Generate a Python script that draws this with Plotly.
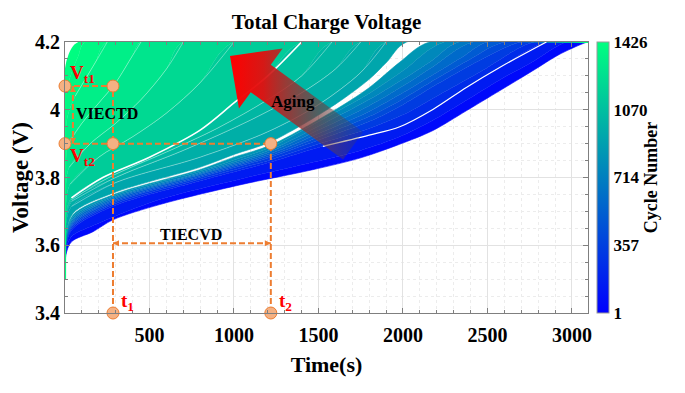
import plotly.graph_objects as go

# ---------------- data ----------------
cycle_min, cycle_max = 1, 1426
cbar_ticks = [1, 357, 714, 1070, 1426]
x_tick_vals = [500, 1000, 1500, 2000, 2500, 3000]
y_tick_vals = [3.4, 3.6, 3.8, 4.0, 4.2]
y_tick_text = ["3.4", "3.6", "3.8", "4", "4.2"]
cv_voltage = 4.2
record_end_t = 3100          # constant-voltage hold continues to end of record

# representative charge curves (time s, voltage V), least aged -> most aged
t_c0001 = [0, 5, 38, 166, 284, 560, 1034, 1466, 1750, 1980, 2175, 2375, 2572, 2768, 2928, 3092]
v_c0001 = [3.50, 3.57, 3.61, 3.64, 3.675, 3.72, 3.778, 3.823, 3.858, 3.898, 3.938, 3.997, 4.056, 4.115, 4.164, 4.20]
t_c0100 = [0, 5, 38, 200, 560, 1034, 1466, 1750, 1980, 2175, 2375, 2572, 2768, 2970]
v_c0100 = [3.50, 3.58, 3.625, 3.665, 3.735, 3.795, 3.845, 3.880, 3.920, 3.968, 4.028, 4.088, 4.142, 4.20]
t_c0200 = [0, 5, 40, 284, 797, 1215, 1526, 1800, 1981, 2177, 2375, 2572, 2849]
v_c0200 = [3.50, 3.59, 3.645, 3.715, 3.790, 3.845, 3.892, 3.925, 3.950, 4.001, 4.066, 4.125, 4.20]
t_c0290 = [0, 5, 40, 284, 797, 1215, 1526, 1800, 2000, 2200, 2450, 2775]
v_c0290 = [3.50, 3.595, 3.65, 3.72, 3.795, 3.852, 3.903, 3.945, 3.985, 4.040, 4.110, 4.20]
t_c0380 = [0, 5, 40, 284, 797, 1215, 1526, 1800, 2000, 2200, 2450, 2700]
v_c0380 = [3.50, 3.60, 3.655, 3.725, 3.800, 3.860, 3.915, 3.965, 4.015, 4.075, 4.145, 4.20]
t_c0465 = [0, 5, 41, 284, 797, 1215, 1526, 1800, 2000, 2200, 2400, 2600]
v_c0465 = [3.50, 3.602, 3.66, 3.729, 3.804, 3.865, 3.925, 3.980, 4.032, 4.092, 4.150, 4.20]
t_c0550 = [0, 5, 42, 284, 797, 1215, 1526, 1800, 2000, 2200, 2350, 2500]
v_c0550 = [3.50, 3.605, 3.665, 3.733, 3.808, 3.870, 3.935, 3.995, 4.050, 4.110, 4.155, 4.20]
t_c0635 = [0, 5, 44, 284, 797, 1215, 1526, 1800, 2000, 2180, 2415]
v_c0635 = [3.50, 3.607, 3.671, 3.737, 3.811, 3.876, 3.946, 4.012, 4.070, 4.128, 4.20]
t_c0720 = [0, 5, 45, 284, 797, 1215, 1526, 1800, 2000, 2170, 2330]
v_c0720 = [3.50, 3.61, 3.677, 3.741, 3.815, 3.882, 3.958, 4.030, 4.090, 4.145, 4.20]
t_c0800 = [0, 5, 46, 284, 797, 1000, 1215, 1526, 1800, 2000, 2245]
v_c0800 = [3.50, 3.612, 3.683, 3.745, 3.819, 3.852, 3.889, 3.972, 4.048, 4.115, 4.20]
t_c0880 = [0, 5, 47, 284, 797, 1000, 1215, 1566, 1800, 1980, 2157]
v_c0880 = [3.50, 3.615, 3.689, 3.749, 3.823, 3.860, 3.895, 3.990, 4.065, 4.140, 4.20]
t_c0900 = [0, 5, 47, 284, 797, 1000, 1215, 1566, 1800, 1903, 2022]
v_c0900 = [3.50, 3.62, 3.694, 3.754, 3.830, 3.868, 3.905, 4.005, 4.090, 4.140, 4.20]
t_c0960 = [0, 5, 40, 300, 800, 1200, 1500, 1750, 1900]
v_c0960 = [3.50, 3.66, 3.715, 3.785, 3.860, 3.935, 4.015, 4.110, 4.20]
t_c1000 = [0, 5, 40, 300, 700, 1100, 1400, 1600, 1750]
v_c1000 = [3.50, 3.67, 3.73, 3.80, 3.88, 3.97, 4.05, 4.12, 4.20]
t_c1050 = [0, 5, 39, 260, 600, 900, 1200, 1400, 1580]
v_c1050 = [3.50, 3.675, 3.735, 3.80, 3.875, 3.945, 4.03, 4.10, 4.20]
t_c1100 = [0, 4, 38, 224, 500, 800, 1000, 1200, 1400]
v_c1100 = [3.50, 3.68, 3.74, 3.80, 3.86, 3.94, 4.02, 4.10, 4.20]
t_c1180 = [0, 3, 30, 200, 400, 600, 800, 1000]
v_c1180 = [3.50, 3.70, 3.78, 3.86, 3.92, 3.99, 4.08, 4.20]
t_c1250 = [0, 3, 25, 150, 300, 450, 600, 700]
v_c1250 = [3.50, 3.75, 3.83, 3.90, 3.96, 4.03, 4.12, 4.20]
t_c1310 = [0, 3, 20, 100, 200, 300, 400, 450]
v_c1310 = [3.50, 3.82, 3.90, 3.96, 4.02, 4.08, 4.16, 4.20]
t_c1360 = [0, 2, 15, 60, 120, 180, 250]
v_c1360 = [3.50, 3.90, 3.98, 4.04, 4.09, 4.14, 4.20]
t_c1400 = [0, 2, 10, 40, 80, 120]
v_c1400 = [3.50, 4.00, 4.06, 4.11, 4.16, 4.20]
t_c1426 = [0, 1, 3, 28, 60, 99]
v_c1426 = [3.50, 4.00, 4.11, 4.163, 4.19, 4.20]

rep_cycles = [1, 100, 200, 290, 380, 465, 550, 635, 720, 800, 880, 900,
              960, 1000, 1050, 1100, 1180, 1250, 1310, 1360, 1400, 1426]
rep_t = [t_c0001, t_c0100, t_c0200, t_c0290, t_c0380, t_c0465, t_c0550, t_c0635, t_c0720,
         t_c0800, t_c0880, t_c0900, t_c0960, t_c1000, t_c1050, t_c1100, t_c1180, t_c1250,
         t_c1310, t_c1360, t_c1400, t_c1426]
rep_v = [v_c0001, v_c0100, v_c0200, v_c0290, v_c0380, v_c0465, v_c0550, v_c0635, v_c0720,
         v_c0800, v_c0880, v_c0900, v_c0960, v_c1000, v_c1050, v_c1100, v_c1180, v_c1250,
         v_c1310, v_c1360, v_c1400, v_c1426]
missing_after = 880          # no curves between cycle 880 and 900 -> white band
white_line_cycle = 1100      # visible white seam
thin_seam_cycle = 200        # thin white seam in the blue bundle (visible t >= 1500)
streak_cycles = [960, 1000, 1050, 1180, 1250, 1310, 1360]

# feature-extraction markers
t1, t2 = 284, 1218
v_t1, v_t2 = 4.07, 3.90
v_bottom = 3.4
t_varrow = 47
v_harrow = 3.606

# ---------------- style ----------------
FONT = "Liberation Serif, Times New Roman, serif"
ORANGE = "#ED7D31"
ORANGE_FILL = "#F4B183"
X_MAX = 3095
OFF = 8                       # page body margin of the html page
PX0, PY0, PW, PH = 65, 42, 523, 271   # plot area in page pixels
W, H = 685 - OFF, 393 - OFF
L, T = PX0 - OFF, PY0 - OFF
R, B = W - L - PW, H - T - PH
SMOOTH = 0.9


def winter(c, a=1.0):
    s = (c - cycle_min) / (cycle_max - cycle_min)
    return f"rgba(0,{255 * s:.0f},{255 - 127.5 * s:.0f},{a})"


winter_scale = [[0, "rgb(0,0,255)"], [1, "rgb(0,255,128)"]]

fig = go.Figure()

# filled bundle of charge curves
prev_c = None
for c, tt, vv in zip(rep_cycles, rep_t, rep_v):
    xs = tt + [record_end_t]
    ys = vv + [cv_voltage]
    if prev_c is None or prev_c == missing_after:
        fill, fc = "none", None
    else:
        fill, fc = "tonexty", winter((c + prev_c) / 2)
    fig.add_trace(go.Scatter(
        x=xs, y=ys, mode="lines", fill=fill, fillcolor=fc,
        line=dict(color=winter(c), width=2.2 if c == cycle_max else 0.6,
                  shape="spline", smoothing=SMOOTH),
        hoverinfo="skip", showlegend=False))
    prev_c = c

# white seams / streaks
for c, tt, vv in zip(rep_cycles, rep_t, rep_v):
    if c == white_line_cycle:
        pts = [(a, b) for a, b in zip(tt, vv) if a >= 30]
        style = dict(color="white", width=1.6)
    elif c == thin_seam_cycle:
        pts = [(a, b) for a, b in zip(tt, vv) if a >= 1500]
        style = dict(color="white", width=1.2)
    elif c in streak_cycles:
        pts = [(a, b) for a, b in zip(tt, vv) if a >= 20]
        style = dict(color="rgba(255,255,255,0.55)", width=0.7)
    else:
        continue
    fig.add_trace(go.Scatter(x=[p[0] for p in pts], y=[p[1] for p in pts], mode="lines",
                             line=dict(shape="spline", smoothing=SMOOTH, **style),
                             hoverinfo="skip", showlegend=False))


# ---- "Aging" arrow (decoration, geometry in page pixels) ----
def px2data(px, py):
    return (px - PX0) / PW * X_MAX, 4.2 - (py - PY0) / PH * 0.8


tip = (230, 56)
d = (0.81, 0.59)
n = (-0.59, 0.81)
head_len, head_half, shaft_half, total_len = 38, 37, 17, 152
base = (tip[0] + d[0] * head_len, tip[1] + d[1] * head_len)
tail = (tip[0] + d[0] * total_len, tip[1] + d[1] * total_len)
poly_px = [
    tip,
    (base[0] + n[0] * head_half, base[1] + n[1] * head_half),
    (base[0] + n[0] * shaft_half, base[1] + n[1] * shaft_half),
    (tail[0] + n[0] * shaft_half, tail[1] + n[1] * shaft_half),
    (tail[0] - n[0] * shaft_half, tail[1] - n[1] * shaft_half),
    (base[0] - n[0] * shaft_half, base[1] - n[1] * shaft_half),
    (base[0] - n[0] * head_half, base[1] - n[1] * head_half),
    tip,
]
poly = [px2data(*p) for p in poly_px]
fig.add_trace(go.Scatter(
    x=[p[0] for p in poly], y=[p[1] for p in poly], mode="lines", fill="toself",
    line=dict(width=0, color="rgba(0,0,0,0)"),
    fillgradient=dict(type="horizontal",
                      colorscale=[[0, "rgba(255,0,0,1)"], [0.25, "rgba(225,15,15,0.95)"],
                                  [0.6, "rgba(125,60,60,0.75)"], [1, "rgba(70,70,70,0.2)"]]),
    hoverinfo="skip", showlegend=False))

# ---- dashed guide lines ----
dash = dict(color=ORANGE, width=2, dash="6px,3px")
for xs, ys in [([0, t1], [v_t1, v_t1]), ([0, t2], [v_t2, v_t2]),
               ([t1, t1], [v_bottom, v_t1]), ([t2, t2], [v_bottom, v_t2]),
               ([t_varrow, t_varrow], [v_t1, v_t2]), ([t1, t2], [v_harrow, v_harrow])]:
    fig.add_trace(go.Scatter(x=xs, y=ys, mode="lines", line=dash, cliponaxis=False,
                             hoverinfo="skip", showlegend=False))

# arrow heads (tip of the symbol sits on the point)
fig.add_trace(go.Scatter(
    x=[t2, t1, t_varrow, t_varrow], y=[v_harrow, v_harrow, v_t1, v_t2], mode="markers",
    marker=dict(symbol=["arrow-right", "arrow-left", "arrow-up", "arrow-down"], size=6,
                color=ORANGE, line=dict(width=0)),
    cliponaxis=False, hoverinfo="skip", showlegend=False))

# circles
fig.add_trace(go.Scatter(
    x=[0, t1, 0, t1, t2, t1, t2], y=[v_t1, v_t1, v_t2, v_t2, v_t2, v_bottom, v_bottom],
    mode="markers", cliponaxis=False,
    marker=dict(size=12, color=ORANGE_FILL, line=dict(color=ORANGE, width=1)),
    hoverinfo="skip", showlegend=False))

# colorbar
fig.add_trace(go.Scatter(
    x=[None], y=[None], mode="markers", showlegend=False, hoverinfo="skip",
    marker=dict(color=[cycle_min, cycle_max], cmin=cycle_min, cmax=cycle_max,
                colorscale=winter_scale, showscale=True,
                colorbar=dict(x=1 + 9 / PW, xanchor="left", xpad=0, y=0.5, yanchor="middle",
                              len=1, lenmode="fraction", ypad=0, thickness=12,
                              outlinewidth=1, outlinecolor="#9a9a9a",
                              tickvals=cbar_ticks, ticks="",
                              tickfont=dict(family=FONT, size=17, color="black", weight="bold"),
                              title=dict(text="Cycle Number", side="right",
                                         font=dict(family=FONT, size=18, color="black", weight="bold"))))))

# ---- annotations ----
ann = []


def txt(x, y, s, size, color="black", xanchor="center"):
    ann.append(dict(x=x, y=y, xref="x", yref="y", text=s, showarrow=False,
                    xanchor=xanchor, yanchor="middle",
                    font=dict(family=FONT, size=size, color=color, weight="bold")))


txt(15, 4.105, "V<sub>t1</sub>", 19, "red", "left")
txt(15, 3.86, "V<sub>t2</sub>", 19, "red", "left")
txt(251, 3.99, "VIECTD", 16)
txt(743, 3.632, "TIECVD", 16)
txt(322, 3.432, "t<sub>1</sub>", 19, "red", "left")
txt(1252, 3.432, "t<sub>2</sub>", 19, "red", "left")
txt(1352, 4.023, "Aging", 17)

axis_common = dict(showline=True, linecolor="#7f7f7f", linewidth=1, mirror="ticks",
                   ticks="inside", ticklen=5, tickcolor="#7f7f7f", zeroline=False,
                   showgrid=True, gridcolor="#e2e2e2", gridwidth=1,
                   tickfont=dict(family=FONT, size=20, color="black", weight="bold"))

fig.update_layout(
    width=W, height=H, margin=dict(l=L, r=R, t=T, b=B, autoexpand=False),
    paper_bgcolor="white", plot_bgcolor="white",
    title=dict(text="Total Charge Voltage", x=(L + PW / 2) / W, xanchor="center",
               y=1 - (22 - OFF) / H, yanchor="middle",
               font=dict(family=FONT, size=21, color="black", weight="bold")),
    xaxis=dict(range=[0, X_MAX], tickmode="array", tickvals=x_tick_vals, ticklabelstandoff=4,
               minor=dict(tickmode="linear", tick0=0, dtick=100, showgrid=True,
                          gridcolor="#ececec", griddash="dot", ticks="inside", ticklen=3,
                          tickcolor="#7f7f7f"),
               title=dict(text="Time(s)", standoff=11,
                          font=dict(family=FONT, size=22, color="black", weight="bold")),
               **axis_common),
    yaxis=dict(range=[3.4, 4.2], tickmode="array", tickvals=y_tick_vals, ticktext=y_tick_text,
               minor=dict(tickmode="linear", tick0=3.4, dtick=0.05, showgrid=True,
                          gridcolor="#ececec", griddash="dot", ticks="inside", ticklen=3,
                          tickcolor="#7f7f7f"),
               title=dict(text="Voltage (V)", standoff=4,
                          font=dict(family=FONT, size=23, color="black", weight="bold")),
               **axis_common),
    annotations=ann,
)

fig.write_html("out.html")
